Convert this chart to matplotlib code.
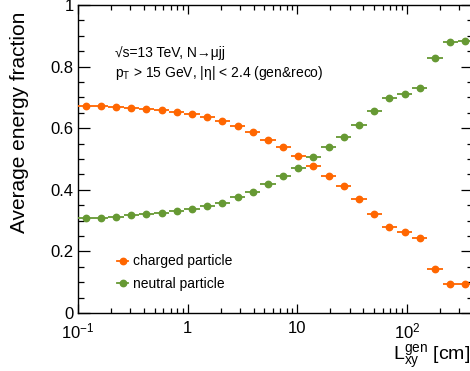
import numpy as np
import matplotlib
matplotlib.use("Agg")
import matplotlib.pyplot as plt
from matplotlib.lines import Line2D
from matplotlib.ticker import FixedLocator, MultipleLocator, NullFormatter

plt.rcParams["font.family"] = ["Liberation Sans", "DejaVu Sans"]
plt.rcParams["mathtext.fontset"] = "custom"
plt.rcParams["mathtext.rm"] = "Liberation Sans"
plt.rcParams["mathtext.it"] = "Liberation Sans:italic"

# L_xy binning (log-uniform, 26 bins from 0.1 to 400 cm)
bin_edges = np.geomspace(0.1, 400, 27)

charged_frac = [0.672, 0.672, 0.670, 0.665, 0.662, 0.658, 0.653, 0.646, 0.635,
                0.623, 0.606, 0.589, 0.563, 0.538, 0.510, 0.477, 0.444, 0.411,
                0.369, 0.321, 0.279, 0.262, 0.244, 0.144, 0.093, 0.093]
neutral_frac = [0.309, 0.309, 0.313, 0.318, 0.321, 0.325, 0.331, 0.337, 0.346,
                0.357, 0.375, 0.393, 0.420, 0.445, 0.472, 0.505, 0.539, 0.570,
                0.609, 0.657, 0.697, 0.712, 0.732, 0.829, 0.881, 0.882]

x_major = [0.1, 1, 10, 100]
x_major_labels = [r"10$^{-1}$", "1", "10", r"10$^{2}$"]

orange = "#ff6600"
green = "#669933"


def plot_fraction(ax, values, color):
    """
    Draws one profile as points with horizontal bars spanning the bin
    """
    centers = np.sqrt(bin_edges[:-1] * bin_edges[1:])
    xerr = [centers - bin_edges[:-1], bin_edges[1:] - centers]
    ax.errorbar(centers, values, xerr=xerr, fmt="o", color=color,
                ms=4.6, elinewidth=1.3, capsize=0, zorder=3)


fig = plt.figure(figsize=(4.7, 3.71), dpi=100)
ax = fig.add_axes([78 / 470, 58 / 371, 395 / 470, 308 / 371])

plot_fraction(ax, charged_frac, orange)
plot_fraction(ax, neutral_frac, green)

ax.set_xscale("log")
ax.set_xlim(0.1, 400)
ax.set_ylim(0, 1)

minor = [m * 10.0 ** e for e in range(-1, 3) for m in range(2, 10)]
ax.xaxis.set_major_locator(FixedLocator(x_major))
ax.set_xticklabels(x_major_labels)
ax.xaxis.set_minor_locator(FixedLocator([v for v in minor if v < 400]))
ax.xaxis.set_minor_formatter(NullFormatter())
ax.yaxis.set_minor_locator(MultipleLocator(0.05))
ax.set_yticks([0, 0.2, 0.4, 0.6, 0.8, 1])
ax.set_yticklabels(["0", "0.2", "0.4", "0.6", "0.8", "1"])

ax.tick_params(which="both", direction="in", top=True, right=True,
               labelsize=12, width=0.9)
ax.tick_params(axis="y", which="major", length=8.5, pad=3)
ax.tick_params(axis="y", which="minor", length=4.3)
ax.tick_params(axis="x", which="major", length=6.5, pad=6)
ax.tick_params(axis="x", which="minor", length=3.6)
for s in ax.spines.values():
    s.set_linewidth(1.0)

fig.text(20 / 470, 1 - 12 / 371, "Average energy fraction", rotation=90,
         ha="center", va="top", fontsize=15)
fig.text(1.0, 1 - 360 / 371, r"L$_{\mathrm{xy}}^{\mathrm{gen}}$ [cm]",
         ha="right", va="baseline", fontsize=14)

ax.text(0.094, 0.844, "\u221as=13 TeV, N\u2192\u03bcjj", transform=ax.transAxes,
        fontsize=10, va="center", ha="left")
ax.text(0.094, 0.779, "p$_{\\mathrm{T}}$ > 15 GeV, |\u03b7| < 2.4 (gen&reco)",
        transform=ax.transAxes, fontsize=10, va="center", ha="left")

handles = [
    Line2D([], [], color=orange, marker="o", ms=4.6, lw=1.3),
    Line2D([], [], color=green, marker="o", ms=4.6, lw=1.3),
]
ax.legend(handles, ["charged particle", "neutral particle"], loc="upper left",
          bbox_to_anchor=(0.0987, 0.19), frameon=False, fontsize=10,
          handlelength=0.8, handletextpad=0.35, labelspacing=0.6,
          borderpad=0, borderaxespad=0)

fig.savefig("out.png", dpi=100)
